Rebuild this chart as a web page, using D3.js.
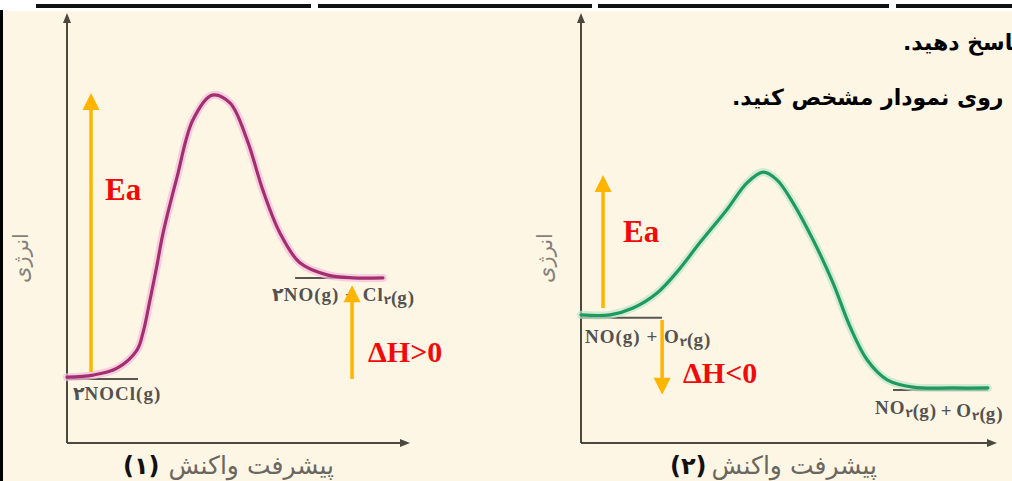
<!DOCTYPE html>
<html>
<head>
<meta charset="utf-8">
<script src="https://cdn.jsdelivr.net/npm/d3@7"></script>
<style>
  html, body { margin: 0; padding: 0; background: #fff; }
  svg { display: block; }
</style>
</head>
<body>
<div id="chart"></div>
<script>
// reaction progress (0-100) and energy (0-100)
var progress1 = [0, 7.6, 14.6, 20.4, 22.2, 24.2, 26.2, 28, 32.1, 36.7, 42.3, 47.5, 52.5, 57.1, 62.1, 67.9, 75.8, 83.4, 92.1];
var energy1   = [15.3, 15.8, 17.4, 21.6, 25.8, 33.3, 41.2, 48.8, 61.9, 75.1, 80.9, 79.1, 70.5, 58.8, 48.8, 41.9, 39.1, 38.4, 38.4];

var progress2 = [0, 7, 12.5, 18.3, 23.1, 28.6, 35.1, 39.9, 43.8, 47.1, 51, 55.8, 60.6, 64.7, 68.8, 73.6, 79.8, 89.4, 97.8];
var energy2   = [29.8, 29.8, 31.4, 34.9, 39.8, 46.6, 54.3, 60.5, 63, 61.2, 55.8, 47.2, 37.2, 27, 19.3, 14.7, 13, 12.8, 12.8];

// energy levels: [from progress, to progress, energy]
var reactant1 = [0, 20.7, 14.9];
var product1  = [66.5, 92.1, 38.4];
var reactant2 = [0, 19.5, 29.1];
var product2  = [75, 97.8, 12.3];

// arrows: [progress, from energy, to energy]
var eaArrow1 = [7, 16.5, 81.4];
var dhArrow1 = [83.1, 14.9, 36.7];
var eaArrow2 = [5.3, 31.4, 62.3];
var dhArrow2 = [19.5, 28.6, 11.2];

var levelLabels1 = ["۲NOCl(g)", "۲NO(g) + Cl_۲(g)"];
var levelLabels2 = ["NO(g) + O_۲(g)", "NO_۲(g) + O_۲(g)"];
var dhLabels = ["ΔH>0", "ΔH<0"];
var panelNumbers = ["(۱)", "(۲)"];
var xTitle = "پیشرفت واکنش";
var yTitle = "انرژی";
var headLines = ["پاسخ دهید.", "روی نمودار مشخص کنید."];

var width = 1012, height = 481;
var bg = "#fdf6e4", axisColor = "#4b4840", orange = "#ffb500", red = "#f20a0a";

var svg = d3.select("#chart").append("svg")
    .attr("width", width)
    .attr("height", height);

// page background and decorations
svg.append("rect").attr("x", 0).attr("y", 11).attr("width", width).attr("height", height - 11).attr("fill", bg);
svg.append("rect").attr("x", 0).attr("y", 10).attr("width", 3).attr("height", height - 10).attr("fill", "#000");
[[36, 311], [318, 592], [598, 889], [896, 1012]].forEach(function(s) {
  svg.append("rect").attr("x", s[0]).attr("y", 4).attr("width", s[1] - s[0]).attr("height", 4).attr("fill", "#111");
});

svg.append("text")
    .attr("x", 903).attr("y", 50)
    .attr("direction", "rtl")
    .attr("text-anchor", "end")
    .attr("font-family", "DejaVu Sans")
    .attr("font-weight", "bold")
    .attr("font-size", 22)
    .attr("fill", "#000")
    .text(headLines[0]);
svg.append("text")
    .attr("x", 732).attr("y", 105)
    .attr("direction", "rtl")
    .attr("text-anchor", "end")
    .attr("font-family", "DejaVu Sans")
    .attr("font-weight", "bold")
    .attr("font-size", 22)
    .attr("fill", "#000")
    .text(headLines[1]);

var panels = [
  { x0: 67, x1: 410, progress: progress1, energy: energy1, reactant: reactant1, product: product1,
    ea: eaArrow1, dh: dhArrow1, labels: levelLabels1, dhLabel: dhLabels[0], num: panelNumbers[0],
    color: "#a32f70", glow: "#f4bddc", eaPos: [105, 200], dhPos: [368, 362],
    labelOff: [[6, 21], [-23, 23]], yTitleX: 21, numX: 123, titleRight: 334 },
  { x0: 581, x1: 997, progress: progress2, energy: energy2, reactant: reactant2, product: product2,
    ea: eaArrow2, dh: dhArrow2, labels: levelLabels2, dhLabel: dhLabels[1], num: panelNumbers[1],
    color: "#1f9a5e", glow: "#bfe6cc", eaPos: [623, 242], dhPos: [683, 383],
    labelOff: [[4, 25], [-18, 24]], yTitleX: 545, numX: 670, titleRight: 877 }
];

function addLabel(g, str, x, y) {
  var t = g.append("text")
      .attr("x", x).attr("y", y)
      .attr("font-family", "Liberation Serif, DejaVu Serif, DejaVu Sans")
      .attr("font-weight", "bold")
      .attr("font-size", 19)
      .attr("letter-spacing", 1)
      .attr("fill", "#545250");
  str.split(/(_.)/).forEach(function(part) {
    if (!part) return;
    if (part[0] === "_") {
      t.append("tspan").attr("font-size", 12).attr("dy", 3).text(part.slice(1));
      t.append("tspan").attr("dy", -3).text("");
    } else {
      t.append("tspan").text(part);
    }
  });
}

function arrow(g, x, y0, y1, color, w, head) {
  var dir = y1 < y0 ? -1 : 1;
  g.append("line")
      .attr("x1", x).attr("x2", x)
      .attr("y1", y0).attr("y2", y1 - dir * head * 0.9)
      .attr("stroke", color).attr("stroke-width", w);
  g.append("path")
      .attr("d", "M" + x + "," + y1 + "L" + (x - head / 2) + "," + (y1 - dir * head) + "L" + (x + head / 2) + "," + (y1 - dir * head) + "Z")
      .attr("fill", color);
}

panels.forEach(function(p) {
  var x = d3.scaleLinear().domain([0, 100]).range([p.x0, p.x1]);
  var y = d3.scaleLinear().domain([0, 100]).range([443, 13]);
  var g = svg.append("g");

  // axes
  g.append("line").attr("x1", x(0)).attr("x2", x(100) - 6).attr("y1", y(0)).attr("y2", y(0))
      .attr("stroke", axisColor).attr("stroke-width", 2);
  g.append("line").attr("x1", x(0)).attr("x2", x(0)).attr("y1", y(0)).attr("y2", y(100) + 6)
      .attr("stroke", axisColor).attr("stroke-width", 2);
  g.append("path")
      .attr("d", "M" + x(100) + "," + y(0) + "l-10,-4l0,8Z").attr("fill", axisColor);
  g.append("path")
      .attr("d", "M" + x(0) + "," + y(100) + "l-4,10l8,0Z").attr("fill", axisColor);

  // level lines
  [p.reactant, p.product].forEach(function(l) {
    g.append("line")
        .attr("x1", x(l[0])).attr("x2", x(l[1]))
        .attr("y1", y(l[2])).attr("y2", y(l[2]))
        .attr("stroke", "#5a5650").attr("stroke-width", 2);
  });

  // curve
  var pts = p.progress.map(function(v, i) { return [v, p.energy[i]]; });
  var line = d3.line()
      .x(function(d) { return x(d[0]); })
      .y(function(d) { return y(d[1]); })
      .curve(d3.curveCatmullRom.alpha(0.5));
  g.append("path").attr("d", line(pts)).attr("fill", "none")
      .attr("stroke", p.glow).attr("stroke-width", 8).attr("stroke-opacity", 0.7)
      .attr("stroke-linecap", "round");
  g.append("path").attr("d", line(pts)).attr("fill", "none")
      .attr("stroke", p.color).attr("stroke-width", 3.2)
      .attr("stroke-linecap", "round");

  // level labels
  addLabel(g, p.labels[0], x(p.reactant[0]) + p.labelOff[0][0], y(p.reactant[2]) + p.labelOff[0][1]);
  addLabel(g, p.labels[1], x(p.product[0]) + p.labelOff[1][0], y(p.product[2]) + p.labelOff[1][1]);

  // arrows
  arrow(g, x(p.ea[0]), y(p.ea[1]), y(p.ea[2]), orange, 3.5, 17);
  arrow(g, x(p.dh[0]), y(p.dh[1]), y(p.dh[2]), orange, 3.5, 17);

  g.append("text")
      .attr("x", p.eaPos[0]).attr("y", p.eaPos[1])
      .attr("font-family", "Liberation Serif")
      .attr("font-weight", "bold")
      .attr("font-size", 31)
      .attr("fill", red)
      .text("Ea");
  g.append("text")
      .attr("x", p.dhPos[0]).attr("y", p.dhPos[1])
      .attr("font-family", "Liberation Serif")
      .attr("font-weight", "bold")
      .attr("font-size", 30)
      .attr("fill", red)
      .text(p.dhLabel);

  // axis titles
  g.append("text")
      .attr("transform", "translate(" + p.yTitleX + ",258) rotate(-90)")
      .attr("text-anchor", "middle")
      .attr("dy", "0.35em")
      .attr("font-family", "DejaVu Sans")
      .attr("font-size", 21)
      .attr("fill", "#858079")
      .text(yTitle);
  g.append("text")
      .attr("x", p.titleRight).attr("y", 474)
      .attr("direction", "rtl")
      .attr("text-anchor", "start")
      .attr("font-family", "DejaVu Sans")
      .attr("font-size", 25)
      .attr("fill", "#6a6660")
      .text(xTitle);
  g.append("text")
      .attr("x", p.numX).attr("y", 474)
      .attr("font-family", "DejaVu Sans")
      .attr("font-weight", "bold")
      .attr("font-size", 24)
      .attr("letter-spacing", -2)
      .attr("fill", "#111")
      .text(p.num);
});
</script>
</body>
</html>
